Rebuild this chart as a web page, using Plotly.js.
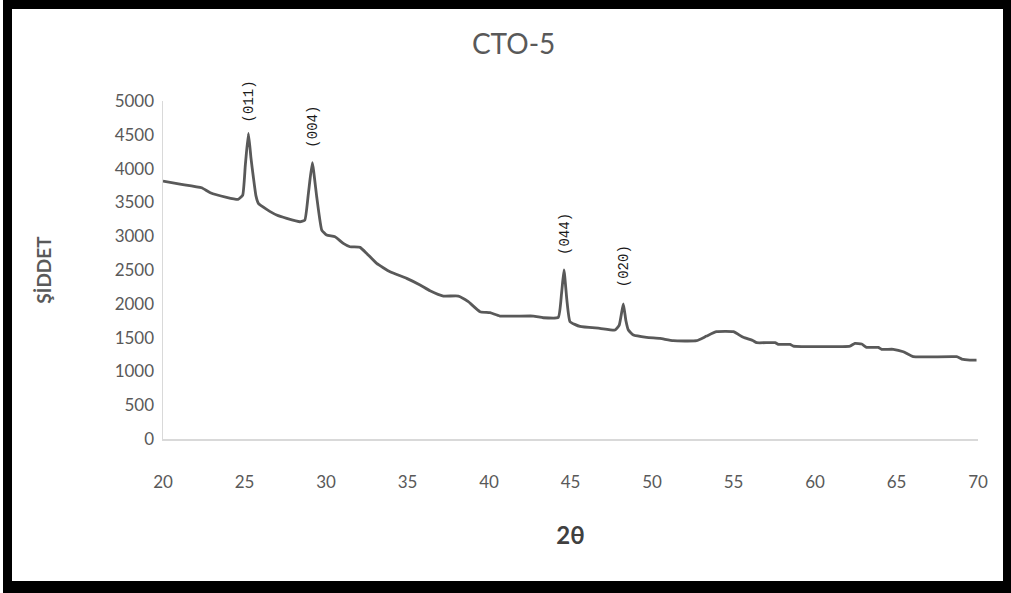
<!DOCTYPE html>
<html>
<head>
<meta charset="utf-8">
<script src="https://cdn.plot.ly/plotly-3.0.1.min.js"></script>
<style>
  html, body { margin: 0; padding: 0; background: #fff; }
  #chart { position: absolute; left: 0; top: 0; width: 1011px; height: 593px; }
  #frame { position: absolute; left: 3px; top: 0; width: 1008px; height: 593px; box-sizing: border-box;
           border-style: solid; border-color: #000; border-width: 9px 8px 12px 9px; pointer-events: none; }
</style>
</head>
<body>
<div id="chart"></div>
<div id="frame"></div>
<script>
// 2θ values (degrees)
const twoTheta = [20, 21.04, 22.37, 22.9, 23.9, 24.6, 24.89, 25.05, 25.24, 25.4, 25.54, 25.7, 25.85,
  26.36, 26.97, 27.59, 28.4, 28.7, 28.92, 29.16, 29.43, 29.74, 30.04, 30.55, 31.06, 31.47, 32.09,
  32.5, 33.11, 33.93, 34.95, 35.77, 36.38, 37.2, 38.12, 38.73, 39.45, 40.06, 40.67, 42.72, 43.33,
  44.25, 44.45, 44.6, 44.78, 44.97, 45.58, 46.8, 47.73, 47.99, 48.24, 48.4, 48.55, 48.86, 49.67,
  50.49, 51.3, 52.73, 53.35, 53.96, 54.99, 55.6, 56.21, 56.42, 57.55, 57.75, 58.47, 58.67, 62.15,
  62.45, 62.86, 63.17, 63.88, 64.09, 64.8, 65.42, 66.03, 68.69, 69.0, 69.5, 69.91];
// Intensity (ŞİDDET)
const intensity = [3816, 3771, 3717, 3643, 3575, 3545, 3609, 4050, 4521, 4150, 3880, 3600, 3486,
  3397, 3313, 3264, 3214, 3239, 3634, 4087, 3584, 3091, 3017, 2992, 2894, 2844, 2835,
  2745, 2597, 2474, 2376, 2278, 2193, 2115, 2115, 2031, 1883, 1868, 1819, 1819, 1794,
  1799, 2150, 2500, 2050, 1735, 1665, 1637, 1612, 1686, 1997, 1750, 1612, 1538, 1504,
  1488, 1454, 1454, 1523, 1587, 1587, 1504, 1454, 1425, 1425, 1400, 1400, 1375, 1375,
  1415, 1405, 1356, 1356, 1327, 1327, 1291, 1217, 1217, 1183, 1168, 1168];

// Peak labels (Miller indices)
const peakLabels = ["(011)", "(004)", "(044)", "(020)"];
const peakX = [25.3, 29.2, 44.65, 48.3];
const peakLabelY = [5000, 4620, 3030, 2560];

const xTicks = [20, 25, 30, 35, 40, 45, 50, 55, 60, 65, 70];
const yTicks = [0, 500, 1000, 1500, 2000, 2500, 3000, 3500, 4000, 4500, 5000];

const trace = {
  x: twoTheta, y: intensity, type: 'scatter', mode: 'lines',
  line: { color: '#595959', width: 2.8, shape: 'spline', smoothing: 0.4 },
  hoverinfo: 'skip'
};

const annotations = peakLabels.map((t, i) => ({
  x: peakX[i], y: peakLabelY[i], xref: 'x', yref: 'y', text: t, showarrow: false,
  textangle: -90, xanchor: 'center', yanchor: 'middle',
  font: { family: 'Liberation Mono', size: 14, color: '#1a1a1a' }
}));

const layout = {
  width: 1011, height: 593,
  margin: { l: 163, r: 33, t: 101, b: 154 },
  paper_bgcolor: '#fff', plot_bgcolor: '#fff',
  showlegend: false,
  title: { text: 'CTO-5', x: 0.508, xref: 'container', xanchor: 'center', y: 0.925, yref: 'container', yanchor: 'middle',
           font: { family: 'Lato', size: 28, color: '#595959' } },
  xaxis: {
    range: [20, 70], tickvals: xTicks, ticktext: xTicks.map(String),
    showgrid: false, zeroline: false, showline: true, linecolor: '#d9d9d9', linewidth: 1.5,
    ticks: '', ticklabelstandoff: 27, tickfont: { family: 'Lato', size: 17, color: '#595959' },
    title: { text: '<b>2θ</b>', standoff: 36, font: { family: 'Lato', size: 24, color: '#404040' } }
  },
  yaxis: {
    range: [0, 5000], tickvals: yTicks, ticktext: yTicks.map(String),
    showgrid: false, zeroline: false, showline: true, linecolor: '#d9d9d9', linewidth: 1.5,
    ticks: '', ticklabelstandoff: 4, tickfont: { family: 'Lato', size: 17, color: '#595959' },
    title: { text: '<b>ŞİDDET</b>', standoff: 58, font: { family: 'Lato', size: 19, color: '#595959' } }
  },
  annotations: annotations
};

Plotly.newPlot('chart', [trace], layout, { staticPlot: true, displayModeBar: false });
</script>
</body>
</html>
